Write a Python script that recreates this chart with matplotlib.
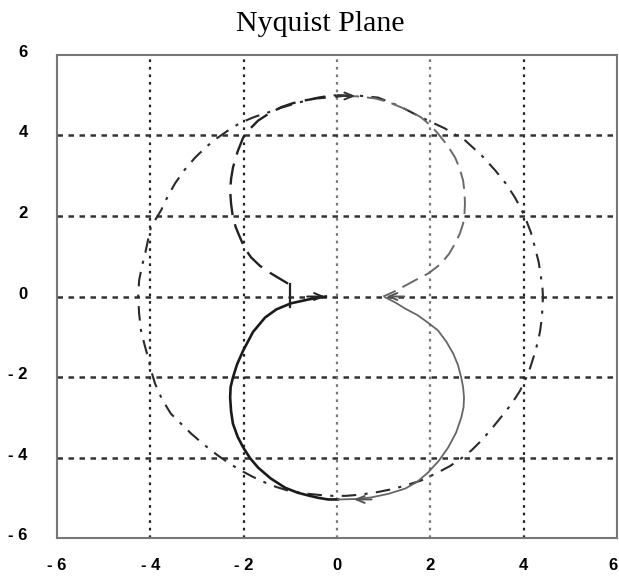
import matplotlib
matplotlib.use("Agg")
import matplotlib.pyplot as plt
from matplotlib.transforms import ScaledTranslation

# --- data ---------------------------------------------------------------
ticks = [-6, -4, -2, 0, 2, 4, 6]
tick_labels = ["- 6", "- 4", "- 2", "0", "2", "4", "6"]

# lower loop, left half (solid, dark)
low_left_x = [-0.24, -0.60, -0.99, -1.30, -1.54, -1.80, -2.01, -2.14, -2.23, -2.28, -2.29, -2.27,
              -2.23, -2.13, -2.01, -1.86, -1.69, -1.42, -1.11, -0.85, -0.62, -0.40, -0.19, 0.02]
low_left_y = [0.0, -0.07, -0.17, -0.32, -0.52, -0.88, -1.34, -1.68, -2.01, -2.25, -2.51, -2.85,
              -3.16, -3.48, -3.75, -4.02, -4.25, -4.52, -4.75, -4.87, -4.94, -5.00, -5.04, -5.04]

# lower loop, right half (solid, grey)
low_right_x = [0.02, 0.38, 0.73, 1.10, 1.46, 1.72, 1.95, 2.18, 2.38, 2.55, 2.66, 2.71, 2.72,
               2.70, 2.66, 2.59, 2.49, 2.34, 2.16, 1.95, 1.72, 1.46, 1.25, 1.03]
low_right_y = [-5.04, -5.03, -4.99, -4.90, -4.77, -4.60, -4.37, -4.08, -3.75, -3.38, -3.01, -2.75,
               -2.51, -2.25, -2.01, -1.70, -1.42, -1.12, -0.84, -0.65, -0.46, -0.30, -0.15, -0.02]

# upper loop, left half (dashed, dark)
up_left_x = [-1.05, -1.41, -1.65, -1.84, -1.98, -2.08, -2.17, -2.23, -2.27, -2.29, -2.27, -2.23,
             -2.13, -2.01, -1.86, -1.69, -1.45, -1.20, -0.95, -0.69, -0.45, -0.26, 0.10]
up_left_y = [0.32, 0.57, 0.76, 0.97, 1.20, 1.47, 1.72, 1.96, 2.30, 2.63, 2.92, 3.20,
             3.60, 3.95, 4.17, 4.37, 4.55, 4.70, 4.80, 4.87, 4.92, 4.94, 4.98]

# upper loop, right half (dashed, grey)
up_right_x = [0.10, 0.45, 0.81, 1.10, 1.37, 1.60, 1.80, 2.00, 2.16, 2.36, 2.53, 2.63, 2.70, 2.73,
              2.74, 2.73, 2.70, 2.63, 2.53, 2.40, 2.23, 2.10, 1.95, 1.70, 1.46, 1.22, 0.99]
up_right_y = [4.98, 4.97, 4.92, 4.83, 4.70, 4.58, 4.45, 4.25, 4.05, 3.76, 3.45, 3.17, 2.88, 2.60,
              2.31, 2.06, 1.81, 1.56, 1.32, 1.06, 0.82, 0.70, 0.57, 0.42, 0.27, 0.12, 0.0]

# large closing contour (dash-dot)
big_x = [0.0, 0.45, 0.88, 1.35, 1.80, 2.30, 2.74, 3.10, 3.39, 3.62, 3.81, 3.93, 4.03, 4.15, 4.24,
         4.32, 4.37, 4.40, 4.41, 4.40, 4.38, 4.35, 4.31, 4.23, 4.14, 4.04, 3.92, 3.73, 3.51, 3.30,
         3.09, 2.88, 2.66, 2.42, 2.16, 1.80, 1.50, 1.20, 0.85, 0.50, 0.20, -0.10, -0.36, -0.62,
         -1.05, -1.30, -1.54, -1.80, -2.06, -2.30, -2.55, -2.85, -3.13, -3.35, -3.56, -3.75, -3.90,
         -3.98, -4.05, -4.13, -4.20, -4.24, -4.26, -4.24, -4.18, -4.11, -4.05, -3.99, -3.88, -3.77,
         -3.63, -3.47, -3.27, -3.04, -2.80, -2.55, -2.30, -2.06, -1.77, -1.48, -1.19, -0.90, -0.65,
         -0.41, -0.20, 0.0]
big_y = [5.0, 4.99, 4.94, 4.72, 4.45, 4.18, 3.88, 3.50, 3.13, 2.80, 2.46, 2.20, 1.96, 1.60, 1.22,
         0.85, 0.47, 0.22, 0.0, -0.30, -0.60, -0.85, -1.09, -1.43, -1.76, -2.05, -2.34, -2.68, -3.0,
         -3.30, -3.58, -3.82, -4.02, -4.21, -4.37, -4.57, -4.68, -4.78, -4.86, -4.92, -4.95, -4.95,
         -4.93, -4.90, -4.82, -4.73, -4.62, -4.48, -4.32, -4.15, -3.95, -3.68, -3.40, -3.15, -2.91,
         -2.55, -2.16, -1.85, -1.51, -1.17, -0.84, -0.42, 0.0, 0.40, 0.75, 1.07, 1.40, 1.71, 1.93,
         2.14, 2.48, 2.81, 3.14, 3.45, 3.72, 3.95, 4.15, 4.32, 4.46, 4.57, 4.69, 4.79, 4.87, 4.94,
         4.98, 5.0]

# direction arrows: tip position and direction (+1 right, -1 left)
arrow_x = [-0.20, 0.45, 0.30, 1.00]
arrow_y = [0.0, 4.98, -5.04, 0.0]
arrow_dir = [1, 1, -1, -1]
arrow_col = ["#222222", "#333333", "#555555", "#555555"]

# --- figure -------------------------------------------------------------
fig = plt.figure(figsize=(6.19, 5.78), dpi=100)
ax = fig.add_axes([0.092, 0.069, 0.905, 0.836])
ax.set_xlim(-6, 6)
ax.set_ylim(-6, 6)

# grid
for g in [-4, -2, 0, 2, 4]:
    vcol = "#777777" if g in (0, 2) else "#222222"
    ax.axvline(g, color=vcol, lw=1.6, ls=(0, (1.2, 2.2)), zorder=1)
    ax.axhline(g, color="#333333", lw=1.8, ls=(0, (2.2, 2.2)), zorder=1)

ax.plot(big_x, big_y, color="#2a2a2a", lw=1.5, ls=(0, (7, 4, 1.5, 4)), zorder=3)
ax.plot(up_left_x, up_left_y, color="#222222", lw=1.7, ls=(0, (9, 4)), zorder=3)
ax.plot(up_right_x, up_right_y, color="#6a6a6a", lw=1.4, ls=(0, (9, 4)), zorder=3)
ax.plot(low_left_x, low_left_y, color="#1a1a1a", lw=1.9, zorder=3)
ax.plot(low_right_x, low_right_y, color="#666666", lw=1.3, zorder=3)

# short vertical stroke where the upper loop meets the real axis
ax.plot([-1.0, -1.0], [-0.25, 0.3], color="#222222", lw=1.6, zorder=3)

for x, y, d, c in zip(arrow_x, arrow_y, arrow_dir, arrow_col):
    ax.annotate("", xy=(x, y), xytext=(x - d * 0.5, y),
                arrowprops=dict(arrowstyle="->,head_length=0.6,head_width=0.25",
                                color=c, lw=1.4), zorder=4)

ax.set_xticks(ticks)
ax.set_yticks(ticks)
lbl_font = dict(fontfamily="Liberation Sans", fontweight="bold", fontsize=12)
ax.set_xticklabels(tick_labels, **lbl_font)
ax.set_yticklabels(tick_labels, **lbl_font)
ax.tick_params(length=0)
ax.tick_params(axis="x", pad=14)
ax.tick_params(axis="y", pad=21)
lift = ScaledTranslation(0, 4 / 100, fig.dpi_scale_trans)
for lbl in ax.get_yticklabels():
    lbl.set_transform(lbl.get_transform() + lift)
ax.get_xticklabels()[-1].set_horizontalalignment("right")

for s in ax.spines.values():
    s.set_color("#777777")
    s.set_linewidth(1.5)

fig.text(0.517, 0.958, "Nyquist Plane", ha="center", va="center",
         fontfamily="Liberation Serif", fontsize=21.5)

fig.savefig("out.png", dpi=100)
